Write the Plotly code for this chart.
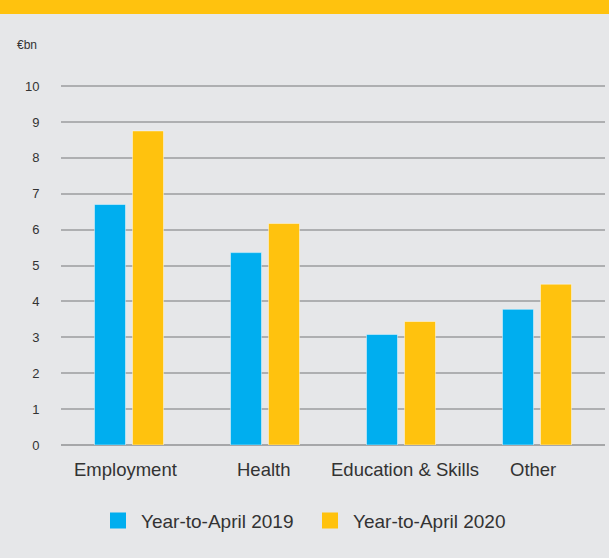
import plotly.graph_objects as go

categories = ["Employment", "Health", "Education & Skills", "Other"]
ytd_2019 = [6.7, 5.36, 3.08, 3.78]
ytd_2020 = [8.75, 6.17, 3.44, 4.48]
series_names = ["Year-to-April 2019", "Year-to-April 2020"]
y_ticks = list(range(0, 11))

BLUE = "#00AEEF"
YELLOW = "#FFC20E"
BG = "#E6E7E9"
TEXT = "#333333"
FONT = "Liberation Sans, Arial, sans-serif"

# horizontal nudges (px) for the category labels under each bar group
label_nudge = [-3.5, -2, 4, -4]

fig = go.Figure()
for name, vals, col in [(series_names[0], ytd_2019, BLUE), (series_names[1], ytd_2020, YELLOW)]:
    fig.add_trace(go.Bar(
        x=categories, y=vals, name=name, showlegend=False,
        marker=dict(color=col, line=dict(color="rgba(255,255,255,0.45)", width=1)),
    ))

# Legend entries drawn as large squares
for name, col in [(series_names[0], BLUE), (series_names[1], YELLOW)]:
    fig.add_trace(go.Scatter(
        x=[None], y=[None], mode="markers", name=name,
        marker=dict(symbol="square", size=17, color=col),
    ))

annotations = [dict(text="€bn", xref="paper", yref="paper",
                    x=(15 - 61) / 544, y=1 + 40 / 360,
                    xanchor="left", yanchor="middle", showarrow=False,
                    font=dict(size=12, color=TEXT))]
for cat, dx in zip(categories, label_nudge):
    annotations.append(dict(
        text=cat, x=cat, xref="x", y=0, yref="y", yshift=-24.5, xshift=dx,
        xanchor="center", yanchor="middle", showarrow=False,
        font=dict(size=18.5, color=TEXT),
    ))

fig.update_layout(
    width=609, height=558,
    paper_bgcolor=BG, plot_bgcolor=BG,
    margin=dict(l=61, r=4, t=85, b=113),
    barmode="group", bargap=0.441, bargroupgap=0.184,
    font=dict(family=FONT, color=TEXT),
    showlegend=True,
    legend=dict(
        orientation="h", x=(95 - 61) / 544, xanchor="left", y=-75.7 / 360, yanchor="middle",
        font=dict(size=19, color=TEXT), bgcolor="rgba(0,0,0,0)",
        itemwidth=36, entrywidth=161, tracegroupgap=0,
    ),
    xaxis=dict(
        type="category", showgrid=False, zeroline=False, showline=False,
        showticklabels=False,
    ),
    yaxis=dict(
        range=[0, 10.03], tickvals=y_ticks, showgrid=True,
        gridcolor="#AEAFB1", gridwidth=1.5, zeroline=True,
        zerolinecolor="#A6A7A9", zerolinewidth=1.5, showline=False,
        ticks="outside", ticklen=18, tickcolor="rgba(0,0,0,0)",
        tickfont=dict(size=13, color=TEXT),
    ),
    shapes=[dict(type="rect", xref="paper", yref="paper",
                 x0=-0.2, x1=1.2, y0=1 + 71 / 360, y1=1.5,
                 fillcolor=YELLOW, line=dict(width=0), layer="above")],
    annotations=annotations,
)

fig.write_html("out.html")
